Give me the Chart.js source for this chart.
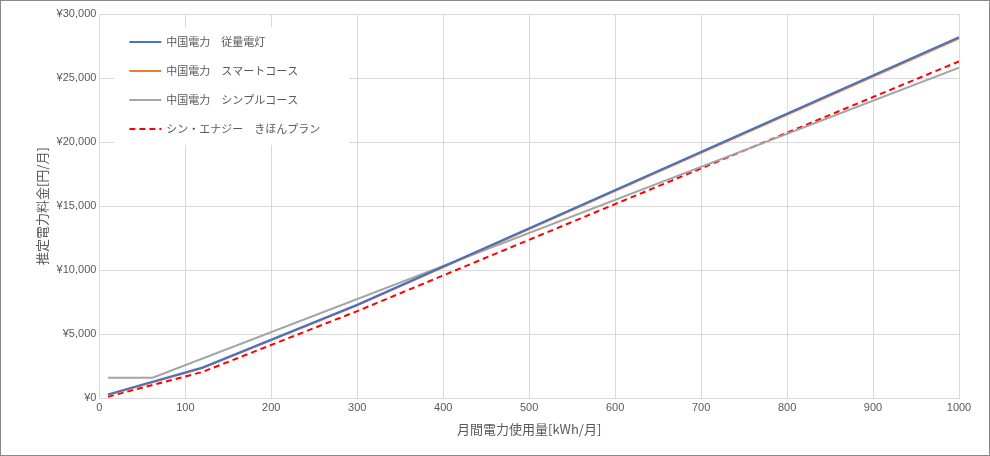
<!DOCTYPE html>
<html><head><meta charset="utf-8">
<script src="https://cdn.jsdelivr.net/npm/chart.js@4/dist/chart.umd.min.js"></script>
<style>
body{margin:0;background:#fff}
#wrap{position:absolute;left:0;top:0;width:988px;height:454px;border:1px solid #888}
</style></head><body>
<div id="wrap"><canvas id="c"></canvas></div>
<script>
var names = ['中国電力　従量電灯', '中国電力　スマートコース', '中国電力　シンプルコース', 'シン・エナジー　きほんプラン'];
var juuryouX = [10, 120, 300, 1000], juuryouY = [300, 2400, 7300, 28200];
var smartX = [10, 120, 300, 1000], smartY = [250, 2350, 7250, 28100];
var simpleX = [10, 62, 1000], simpleY = [1600, 1600, 25800];
var shinX = [10, 120, 300, 1000], shinY = [120, 2050, 6800, 26300];

function pts(xs, ys) { return xs.map(function (x, i) { return { x: x, y: ys[i] }; }); }

// legend drawn inside the plot area
var innerLegend = {
    id: 'innerLegend',
    afterDraw: function (chart) {
        var ctx = chart.ctx, a = chart.chartArea;
        ctx.save();
        ctx.fillStyle = '#fff';
        ctx.fillRect(a.left + 15, a.top + 13, 235, 118);
        chart.data.datasets.forEach(function (d, i) {
            var y = a.top + 28 + i * 29;
            ctx.strokeStyle = d.borderColor;
            ctx.lineWidth = d.borderWidth;
            ctx.setLineDash(d.borderDash || []);
            ctx.beginPath(); ctx.moveTo(a.left + 30, y); ctx.lineTo(a.left + 62, y); ctx.stroke();
            ctx.setLineDash([]);
            ctx.fillStyle = '#595959';
            ctx.font = '11px "Noto Sans CJK JP"';
            ctx.textBaseline = 'middle';
            ctx.fillText(d.label, a.left + 67, y);
        });
        ctx.restore();
    }
};

new Chart(document.getElementById('c'), {
    type: 'line',
    data: {
        datasets: [
            { label: names[0], data: pts(juuryouX, juuryouY), borderColor: '#4472c4', borderWidth: 2 },
            { label: names[1], data: pts(smartX, smartY), borderColor: '#ed7d31', borderWidth: 2 },
            { label: names[2], data: pts(simpleX, simpleY), borderColor: '#a5a5a5', borderWidth: 2 },
            { label: names[3], data: pts(shinX, shinY), borderColor: '#ff0000', borderWidth: 2, borderDash: [6, 4] }
        ]
    },
    options: {
        responsive: true, maintainAspectRatio: false, animation: false,
        layout: { padding: { top: 13, right: 30, left: 29, bottom: 14 } },
        elements: { point: { radius: 0 }, line: { tension: 0 } },
        plugins: { legend: { display: false }, tooltip: { enabled: false } },
        scales: {
            x: {
                type: 'linear', min: 0, max: 1000,
                ticks: { stepSize: 100, color: '#595959', font: { size: 11 }, callback: function (v) { return String(v); } },
                grid: { color: '#d9d9d9', drawTicks: false }, border: { color: '#d9d9d9' },
                title: { display: true, text: '月間電力使用量[kWh/月]', color: '#595959', font: { size: 13, family: 'Noto Sans CJK JP' } }
            },
            y: {
                min: 0, max: 30000,
                ticks: { stepSize: 5000, color: '#595959', font: { size: 11 },
                    callback: function (v) { return '¥' + v.toLocaleString('en-US'); } },
                grid: { color: '#d9d9d9', drawTicks: false }, border: { color: '#d9d9d9' },
                title: { display: true, text: '推定電力料金[円/月]', color: '#595959', font: { size: 13, family: 'Noto Sans CJK JP' } }
            }
        }
    },
    plugins: [innerLegend]
});
</script>
</body></html>
